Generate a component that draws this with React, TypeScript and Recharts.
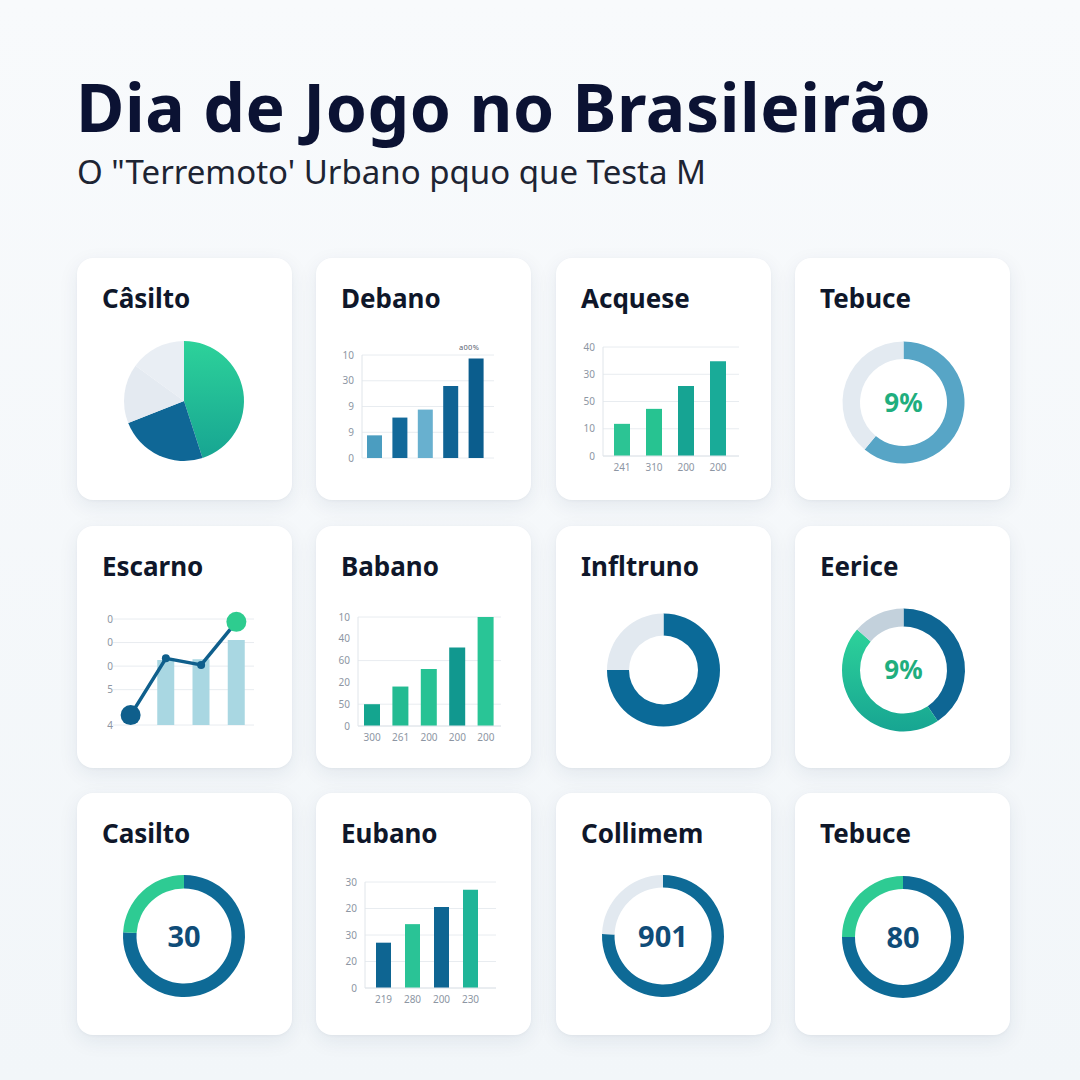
import React from "react";
import {
  BarChart,
  Bar,
  XAxis,
  YAxis,
  CartesianGrid,
  Cell,
  PieChart,
  Pie,
  ComposedChart,
  Line,
} from "recharts";

const FONT = '"Noto Sans", "Open Sans", sans-serif';

// headline
const title = "Dia de Jogo no Brasileirão";
const subtitle = "O \"Terremoto' Urbano pquo que Testa M";

// card titles, row by row
const cardTitles = [
  ["Câsilto", "Debano", "Acquese", "Tebuce"],
  ["Escarno", "Babano", "Infltruno", "Eerice"],
  ["Casilto", "Eubano", "Collimem", "Tebuce"],
];

// row 1
const casiltoSlices = [45, 24, 16, 15];
const debanoValues = [0.88, 1.57, 1.88, 2.8, 3.86];
const debanoTicks = ["0", "9", "9", "30", "10"];
const acqueseCats = ["241", "310", "200", "200"];
const acqueseValues = [11.8, 17.3, 25.7, 34.8];
const acqueseTicks = ["0", "10", "50", "30", "40"];
const tebuceSlices = [61, 39];

// row 2
const escarnoBars = [null, 2.76, 2.79, 3.61];
const escarnoLine = [0.42, 2.83, 2.55, 4.38];
const escarnoTicks = ["4", "5", "0", "0", "0"];
const babanoCats = ["300", "261", "200", "200", "200"];
const babanoValues = [1.0, 1.81, 2.62, 3.6, 5.0];
const babanoTicks = ["0", "50", "20", "60", "40", "10"];
const infltrunoSlices = [75, 25];
const eericeSlices = [40.6, 45.8, 13.6];

// row 3
const casilto2Slices = [76, 24];
const eubanoCats = ["219", "280", "200", "230"];
const eubanoValues = [1.71, 2.41, 3.06, 3.71];
const eubanoTicks = ["0", "20", "30", "20", "30"];
const collimemSlices = [75.5, 24.5];
const tebuce2Slices = [75, 25];

const centerLabels = { tebuce: "9%", eerice: "9%", casilto2: "30", collimem: "901", tebuce2: "80" };

const COL_X = [77, 316, 556, 795];
const ROW_Y = [258, 526, 793];
const CARD_W = 215;
const CARD_H = 242;

const tickStyle = { fontSize: 10, fill: "#8d96a3", fontFamily: FONT };

const Card = ({ row, col, children }: { row: number; col: number; children?: React.ReactNode }) => (
  <div
    style={{
      position: "absolute",
      left: COL_X[col],
      top: ROW_Y[row],
      width: CARD_W,
      height: CARD_H,
      background: "#ffffff",
      borderRadius: 16,
      boxShadow: "0 6px 20px rgba(28,52,84,0.08), 0 1px 3px rgba(28,52,84,0.04)",
    }}
  >
    <div style={{ position: "absolute", left: 0, top: 0 }}>{children}</div>
    <div
      style={{
        position: "absolute",
        left: 25,
        top: 27,
        fontFamily: FONT,
        fontWeight: 700,
        fontSize: 26,
        lineHeight: 1,
        color: "#0f172a",
      }}
    >
      {cardTitles[row][col]}
    </div>
  </div>
);

const toRows = (values: (number | null)[], cats?: string[]) =>
  values.map((v, i) => ({ name: cats ? cats[i] : `c${i}`, value: v }));

const Donut = ({
  values,
  colors,
  cx,
  cy,
  inner,
  outer,
  label,
  labelColor,
  labelSize = 26,
}: {
  values: number[];
  colors: string[];
  cx: number;
  cy: number;
  inner: number;
  outer: number;
  label?: string;
  labelColor?: string;
  labelSize?: number;
}) => (
  <>
    <PieChart width={CARD_W} height={CARD_H} margin={{ top: 0, right: 0, bottom: 0, left: 0 }}>
      <defs>
        <linearGradient id="greenGrad" x1="0" y1="0" x2="0" y2="1">
          <stop offset="0%" stopColor="#2dd29a" />
          <stop offset="100%" stopColor="#17a592" />
        </linearGradient>
      </defs>
      <Pie
        data={toRows(values)}
        dataKey="value"
        cx={cx}
        cy={cy}
        innerRadius={inner}
        outerRadius={outer}
        startAngle={90}
        endAngle={-270}
        stroke="none"
        isAnimationActive={false}
      >
        {values.map((_, i) => (
          <Cell key={i} fill={colors[i]} />
        ))}
      </Pie>
    </PieChart>
    {label && (
      <div
        style={{
          position: "absolute",
          left: cx - 50,
          top: cy - 0.531 * labelSize,
          width: 100,
          textAlign: "center",
          fontFamily: FONT,
          fontWeight: 700,
          fontSize: labelSize,
          lineHeight: 1,
          color: labelColor,
        }}
      >
        {label}
      </div>
    )}
  </>
);

const App = () => {
  return (
    <div
      style={{
        position: "absolute",
        left: 0,
        top: 0,
        width: 1080,
        height: 1080,
        background: "linear-gradient(180deg, #f8fafc 0%, #f2f6f9 100%)",
        overflow: "hidden",
        fontFamily: FONT,
      }}
    >
      <div
        style={{
          position: "absolute",
          left: 76,
          top: 73,
          fontWeight: 700,
          fontSize: 66,
          lineHeight: 1,
          color: "#0b1233",
          letterSpacing: 0.6,
          whiteSpace: "nowrap",
        }}
      >
        {title}
      </div>
      <div
        style={{
          position: "absolute",
          left: 77,
          top: 155,
          fontSize: 33,
          lineHeight: 1,
          color: "#1d2433",
          whiteSpace: "nowrap",
        }}
      >
        {subtitle}
      </div>

      {/* row 1 */}
      <Card row={0} col={0}>
        <Donut
          values={casiltoSlices}
          colors={["url(#greenGrad)", "#0f6796", "#e4eaf1", "#e9eef4"]}
          cx={107}
          cy={143}
          inner={0}
          outer={60}
        />
      </Card>

      <Card row={0} col={1}>
        <BarChart
          width={CARD_W}
          height={CARD_H}
          data={toRows(debanoValues)}
          margin={{ top: 97, right: 37, bottom: 42, left: 0 }}
        >
          <CartesianGrid vertical={false} stroke="#e8ecf0" />
          <XAxis dataKey="name" hide padding={{ left: 0, right: 5 }} />
          <YAxis
            width={46}
            domain={[0, 4]}
            ticks={[0, 1, 2, 3, 4]}
            tickFormatter={(_v: number, i: number) => debanoTicks[i]}
            tick={tickStyle}
            tickLine={false}
            axisLine={{ stroke: "#e0e5ea" }}
          />
          <Bar dataKey="value" barSize={15} isAnimationActive={false}>
            {["#4b9dc0", "#12699a", "#68b0cf", "#0f6394", "#0b5d8d"].map((c, i) => (
              <Cell key={i} fill={c} />
            ))}
          </Bar>
        </BarChart>
        <div
          style={{
            position: "absolute",
            left: 143,
            top: 84,
            fontSize: 7.5,
            color: "#5a6270",
            fontFamily: FONT,
            letterSpacing: 0.3,
          }}
        >
          a00%
        </div>
      </Card>

      <Card row={0} col={2}>
        <BarChart
          width={CARD_W}
          height={CARD_H}
          data={toRows(acqueseValues, acqueseCats)}
          margin={{ top: 89, right: 32, bottom: 22, left: 0 }}
        >
          <CartesianGrid vertical={false} stroke="#e8ecf0" />
          <XAxis
            dataKey="name"
            height={22}
            padding={{ left: 3, right: 5 }}
            tick={tickStyle}
            tickLine={false}
            axisLine={{ stroke: "#e0e5ea" }}
          />
          <YAxis
            width={47}
            domain={[0, 40]}
            ticks={[0, 10, 20, 30, 40]}
            tickFormatter={(_v: number, i: number) => acqueseTicks[i]}
            tick={tickStyle}
            tickLine={false}
            axisLine={{ stroke: "#e0e5ea" }}
          />
          <Bar dataKey="value" barSize={16} isAnimationActive={false}>
            {["#2cc494", "#27c391", "#16a493", "#19ab98"].map((c, i) => (
              <Cell key={i} fill={c} />
            ))}
          </Bar>
        </BarChart>
      </Card>

      <Card row={0} col={3}>
        <Donut
          values={tebuceSlices}
          colors={["#57a5c6", "#e3eaf1"]}
          cx={108.5}
          cy={144.5}
          inner={43.5}
          outer={61}
          label={centerLabels.tebuce}
          labelColor="#1fae7e"
          labelSize={26}
        />
      </Card>

      {/* row 2 */}
      <Card row={1} col={0}>
        <ComposedChart
          width={CARD_W}
          height={CARD_H}
          data={escarnoLine.map((v, i) => ({ name: `c${i}`, line: v, bar: escarnoBars[i] }))}
          margin={{ top: 93, right: 38, bottom: 43, left: 0 }}
        >
          <CartesianGrid vertical={false} stroke="#e8ecf0" />
          <XAxis dataKey="name" hide />
          <YAxis
            width={36}
            domain={[0, 4.5]}
            ticks={[0, 1.5, 2.5, 3.5, 4.5]}
            tickFormatter={(_v: number, i: number) => escarnoTicks[i]}
            tick={tickStyle}
            tickLine={false}
            tickSize={0}
            tickMargin={0}
            axisLine={false}
          />
          <Bar dataKey="bar" barSize={17} fill="#a9d7e2" isAnimationActive={false} />
          <Line
            dataKey="line"
            stroke="#0f5f8c"
            strokeWidth={3.5}
            isAnimationActive={false}
            dot={(p: any) => {
              const last = p.index === escarnoLine.length - 1;
              const first = p.index === 0;
              const r = first || last ? 10 : 4;
              const fill = last ? "#2ecc8f" : "#0f5f8c";
              return <circle key={p.index} cx={p.cx} cy={p.cy} r={r} fill={fill} />;
            }}
          />
        </ComposedChart>
      </Card>

      <Card row={1} col={1}>
        <BarChart
          width={CARD_W}
          height={CARD_H}
          data={toRows(babanoValues, babanoCats)}
          margin={{ top: 91, right: 30, bottom: 20, left: 0 }}
        >
          <CartesianGrid vertical={false} stroke="#e8ecf0" />
          <XAxis
            dataKey="name"
            height={22}
            padding={{ left: 0, right: 1 }}
            tick={tickStyle}
            tickLine={false}
            axisLine={{ stroke: "#e0e5ea" }}
          />
          <YAxis
            width={42}
            domain={[0, 5]}
            ticks={[0, 1, 2, 3, 4, 5]}
            tickFormatter={(_v: number, i: number) => babanoTicks[i]}
            tick={tickStyle}
            tickLine={false}
            axisLine={{ stroke: "#e0e5ea" }}
          />
          <Bar dataKey="value" barSize={16} isAnimationActive={false}>
            {["#14a58f", "#23bb92", "#27c294", "#11988f", "#29c596"].map((c, i) => (
              <Cell key={i} fill={c} />
            ))}
          </Bar>
        </BarChart>
      </Card>

      <Card row={1} col={2}>
        <Donut
          values={infltrunoSlices}
          colors={["#0b6a98", "#e2e9f0"]}
          cx={107.5}
          cy={144}
          inner={34.5}
          outer={56.5}
        />
      </Card>

      <Card row={1} col={3}>
        <Donut
          values={eericeSlices}
          colors={["#0e6694", "url(#greenGrad)", "#c3d1dc"]}
          cx={108.5}
          cy={144}
          inner={43.5}
          outer={61.5}
          label={centerLabels.eerice}
          labelColor="#1fae7e"
          labelSize={26}
        />
      </Card>

      {/* row 3 */}
      <Card row={2} col={0}>
        <Donut
          values={casilto2Slices}
          colors={["#0e6a96", "#2ecb93"]}
          cx={107}
          cy={143}
          inner={47.5}
          outer={61}
          label={centerLabels.casilto2}
          labelColor="#0f4c78"
          labelSize={29}
        />
      </Card>

      <Card row={2} col={1}>
        <BarChart
          width={CARD_W}
          height={CARD_H}
          data={toRows(eubanoValues, eubanoCats)}
          margin={{ top: 89, right: 35, bottom: 25, left: 0 }}
        >
          <CartesianGrid vertical={false} stroke="#e8ecf0" />
          <XAxis
            dataKey="name"
            height={22}
            padding={{ left: 4, right: 11 }}
            tick={tickStyle}
            tickLine={false}
            axisLine={{ stroke: "#e0e5ea" }}
          />
          <YAxis
            width={49}
            domain={[0, 4]}
            ticks={[0, 1, 2, 3, 4]}
            tickFormatter={(_v: number, i: number) => eubanoTicks[i]}
            tick={tickStyle}
            tickLine={false}
            axisLine={{ stroke: "#e0e5ea" }}
          />
          <Bar dataKey="value" barSize={15} isAnimationActive={false}>
            {["#0e6592", "#2ac396", "#0e6592", "#1fb598"].map((c, i) => (
              <Cell key={i} fill={c} />
            ))}
          </Bar>
        </BarChart>
      </Card>

      <Card row={2} col={2}>
        <Donut
          values={collimemSlices}
          colors={["#0e6a96", "#e2e9f0"]}
          cx={107}
          cy={143}
          inner={48.5}
          outer={61}
          label={centerLabels.collimem}
          labelColor="#0f4c78"
          labelSize={29}
        />
      </Card>

      <Card row={2} col={3}>
        <Donut
          values={tebuce2Slices}
          colors={["#0e6a96", "#2ecb93"]}
          cx={108}
          cy={144}
          inner={48}
          outer={61}
          label={centerLabels.tebuce2}
          labelColor="#0f4c78"
          labelSize={29}
        />
      </Card>
    </div>
  );
};

export default App;
